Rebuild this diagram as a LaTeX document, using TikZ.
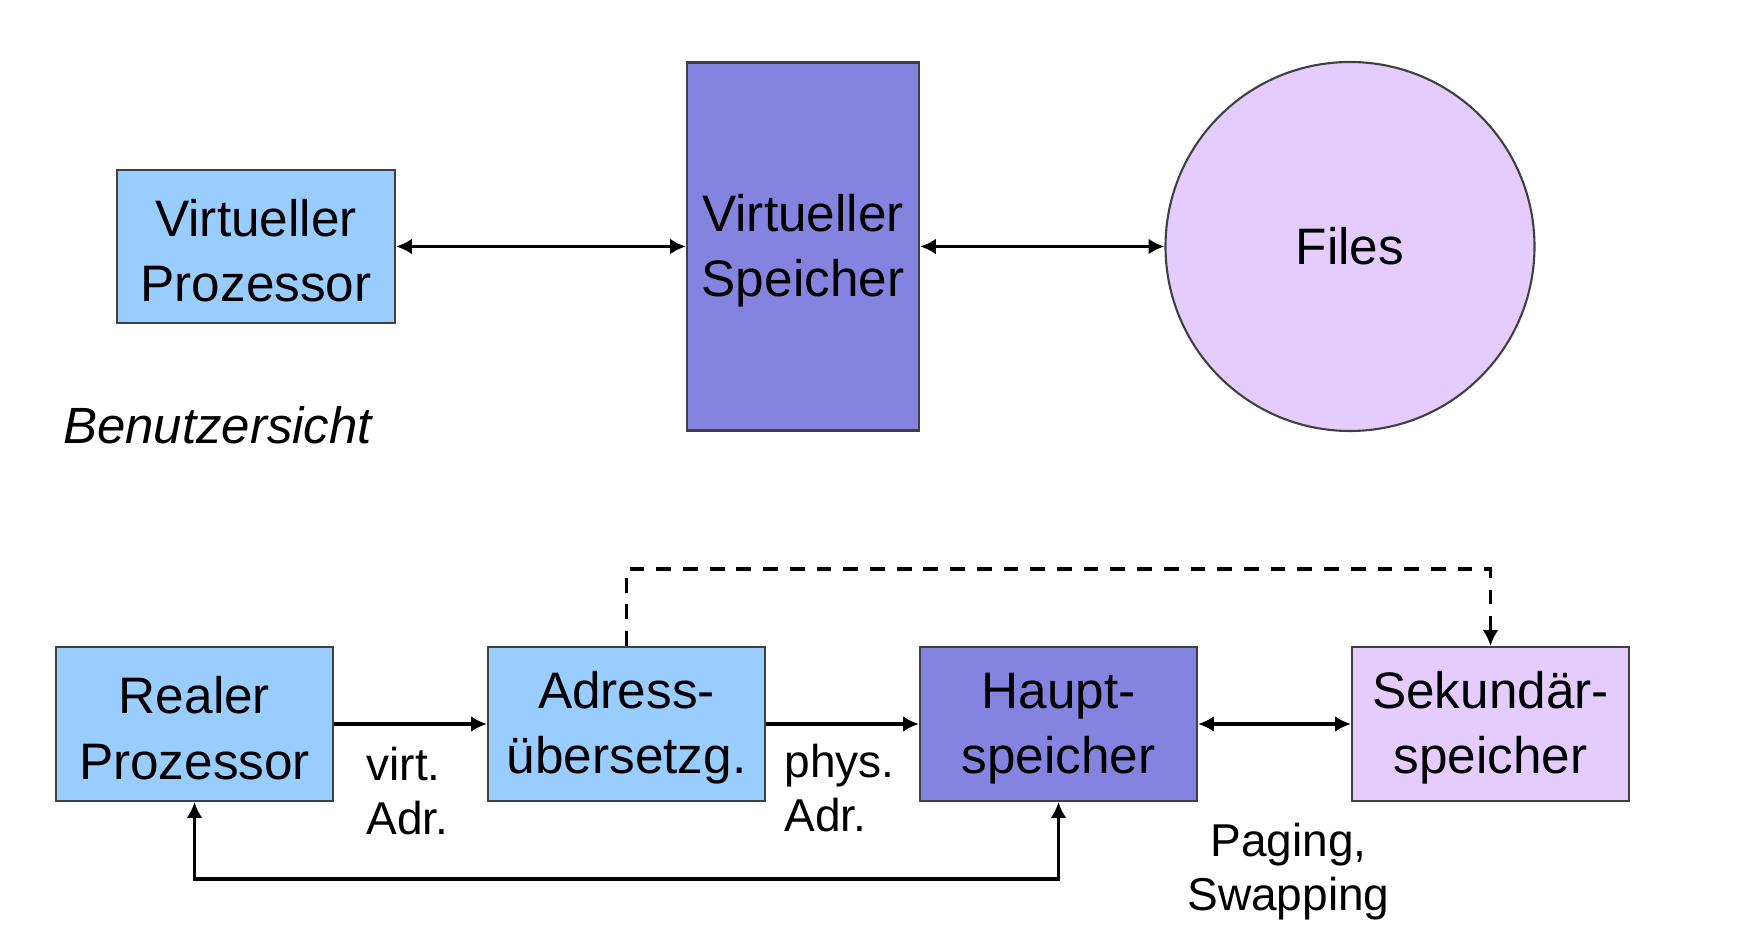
\documentclass[tikz,border=0pt]{standalone}
\usepackage{fontspec}
\setmainfont{Liberation Sans}
\usepackage{tikz}
\usetikzlibrary{positioning,arrows.meta}

\definecolor{hellblau}{HTML}{99CCFF}
\definecolor{lila}{HTML}{8484E0}
\definecolor{flieder}{HTML}{E5CCFF}
\definecolor{rand}{HTML}{404040}

\tikzset{
  box/.style={draw=rand, line width=0.6pt, align=center, inner sep=0pt,
    font=\fontsize{14.6pt}{18.5pt}\selectfont},
  unit/.style={box, minimum width=2.77cm, minimum height=1.54cm},
  lbl/.style={align=left, inner sep=0pt, font=\fontsize{13.1pt}{15.3pt}\selectfont},
}

\begin{document}
\begin{tikzpicture}[node distance=5.47cm,on grid,line width=0.9pt,
    >={Latex[length=4.5pt,width=4.5pt]}]
  \useasboundingbox (0,0) rectangle (17.54,-9.48);
  % Benutzersicht
  \node[box, fill=hellblau, minimum width=2.78cm, minimum height=1.53cm] (vp) at (2.56,-2.465) {\strut Virtueller\\Prozessor};
  \node[box, fill=lila, minimum width=2.32cm, minimum height=3.68cm] (vs) [right=of vp] {\strut Virtueller\\Speicher};
  \node[box, circle, fill=flieder, minimum size=3.69cm] (files) [right=of vs] {Files};
  \node[anchor=base west, inner sep=0pt, font=\fontsize{14.5pt}{17pt}\selectfont\itshape] (sicht) at (0.615,-4.44) {Benutzersicht};
  \path[<->] (vp)  edge (vs);
  \path[<->] (vs)  edge (files);
  % reale Sicht
  \node[unit, fill=hellblau] (real) at (1.945,-7.24) {\strut Realer\\Prozessor};
  \node[unit, fill=hellblau] (adr)  [right=4.32cm of real] {\strut Adress-\\übersetzg.};
  \node[unit, fill=lila]     (haupt) [right=4.32cm of adr] {\strut Haupt-\\speicher};
  \node[unit, fill=flieder]  (sek)  [right=4.32cm of haupt] {\strut Sekundär-\\speicher};
  \path[->]  (real)  edge node[lbl, anchor=north, yshift=-0.22cm, xshift=-0.03cm] {virt.\\Adr.} (adr);
  \path[->]  (adr)   edge node[lbl, anchor=north, yshift=-0.19cm, xshift=-0.03cm] {phys.\\Adr.} (haupt);
  \path[<->] (haupt) edge node[lbl, align=center, anchor=north, yshift=-0.98cm, xshift=0.14cm] {Paging,\\Swapping} (sek);
  \draw[<->] (haupt.south) -- ++(0,-0.77) -| (real.south);
  \draw[->, dash pattern=on 4.2pt off 3.4pt] (adr.north) -- ++(0,0.77) -| (sek.north);
\end{tikzpicture}
\end{document}
